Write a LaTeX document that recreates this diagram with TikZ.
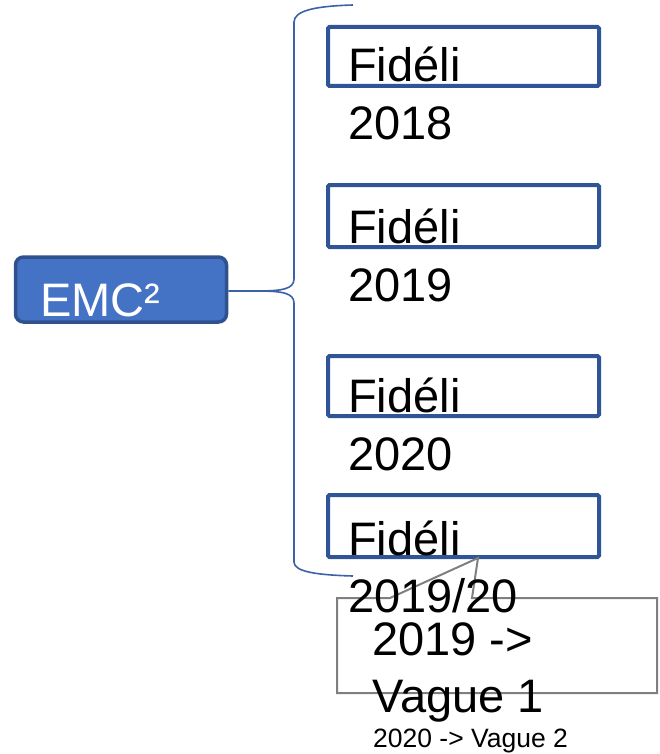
\documentclass[tikz,border=0pt]{standalone}
\usepackage{fontspec}
\setmainfont{Liberation Sans}
\definecolor{emcfill}{HTML}{4472C4}
\definecolor{emcline}{HTML}{2F528F}
\definecolor{boxline}{HTML}{2F5597}
\definecolor{braceline}{HTML}{3A62A8}
\definecolor{callgray}{HTML}{7F7F7F}
\tikzset{
  emcbox/.style={draw=emcline, fill=emcfill, line width=3.5pt, rounded corners=8pt,
    minimum width=211pt, minimum height=65pt, inner sep=0pt},
  fidbox/.style={draw=boxline, line width=4pt, rounded corners=1.5pt,
    minimum width=271pt, inner sep=0pt},
  bigtxt/.style={anchor=base west, inner sep=0pt, font=\fontsize{47}{57}\selectfont},
  smalltxt/.style={anchor=base west, inner sep=0pt, font=\fontsize{26.5}{30}\selectfont},
  bracestyle/.style={draw=braceline, line width=1.6pt},
  calloutstyle/.style={draw=callgray, line width=2pt, line join=miter}
}
\begin{document}
\begin{tikzpicture}[x=1pt,y=-1pt]
\useasboundingbox (0,0) rectangle (660,754);

% EMC box
\node[emcbox] (emc) at (121,289.5) {};
\node[bigtxt, text=white] (emct) at (40,316) {EMC²};

% brace
\coordinate (tip) at (258,291);
\coordinate (btop) at (353,5);
\coordinate (bbot) at (353,576);
\draw[bracestyle] (emc.east |- tip) -- (tip)
  .. controls (282,291) and (294,289) .. (294,279) -- (294,22)
  .. controls (294,10) and (318,6) .. (btop);
\draw[bracestyle] (tip)
  .. controls (282,291) and (294,293) .. (294,303) -- (294,562)
  .. controls (294,572) and (318,575) .. (bbot);

% Fideli boxes
\node[fidbox, minimum height=59pt] (b1) at (463.5,56.5) {};
\node[fidbox, minimum height=62pt] (b2) at (463.5,216) {};
\node[fidbox, minimum height=60pt] (b3) at (463.5,386) {};
\node[fidbox, minimum height=62pt] (b4) at (463.5,526) {};

% callout
\draw[calloutstyle] (337,598) -- (390,598) -- (478,558) -- (472,598) -- (657,598)
  -- (657,693) -- (337,693) -- cycle;

% texts
\node[bigtxt] (t1a) at (348,82) {Fidéli};
\node[bigtxt] (t1b) at (348,140) {2018};
\node[bigtxt] (t2a) at (348,243) {Fidéli};
\node[bigtxt] (t2b) at (348,301) {2019};
\node[bigtxt] (t3a) at (348,412) {Fidéli};
\node[bigtxt] (t3b) at (348,470) {2020};
\node[bigtxt] (t4a) at (348,555) {Fidéli};
\node[bigtxt] (t4b) at (348,612) {2019/20};

\node[bigtxt] (c1) at (372,655) {2019 ->};
\node[bigtxt] (c2) at (372,712) {Vague 1};
\node[smalltxt] (c3) at (373,747) {2020 -> Vague 2};
\end{tikzpicture}
\end{document}
